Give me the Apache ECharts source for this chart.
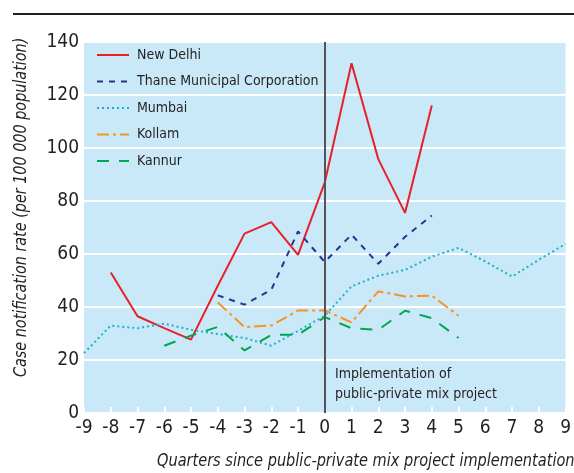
<!DOCTYPE html>
<html><head><meta charset="utf-8">
<script src="https://cdn.jsdelivr.net/npm/echarts@6/dist/echarts.min.js"></script>
<style>html,body{margin:0;padding:0;background:#fff}#c{width:574px;height:473px}</style>
</head><body><div id="c"></div>
<script>
var quarters = [-9,-8,-7,-6,-5,-4,-3,-2,-1,0,1,2,3,4,5,6,7,8,9];
var newDelhi = [null,53,36.5,32,27.7,48,67.7,72,59.7,87,132,95.8,75.5,116,null,null,null,null,null];
var thane    = [null,null,null,null,null,44.4,40.9,46.5,68.5,57,67.3,56.3,66.5,74.5,null,null,null,null,null];
var mumbai   = [22.6,33,32,33.7,31.4,29.8,28.3,25.4,31,36.7,47.8,51.8,54,59,62.3,57.2,51.5,57.8,63.8];
var kollam   = [null,null,null,null,null,41.7,32.4,33,38.7,38.7,34.2,45.9,44,44.3,36.7,null,null,null,null];
var kannur   = [null,null,null,25.4,29.2,32.5,23.6,29.5,29.5,36.2,32,31.4,38.6,35.8,28.3,null,null,null,null];
var yTicks = [0,20,40,60,80,100,120,140];

function pairs(arr){ var out=[]; for (var i=0;i<quarters.length;i++){ if(arr[i]!==null) out.push([quarters[i],arr[i]]); } return out; }

var FONT = '"Liberation Sans Narrow","DejaVu Sans Condensed","Liberation Sans",sans-serif';
var chart = echarts.init(document.getElementById('c'), null, {renderer:'canvas'});
function ser(name, arr, color, type, width){
  return {name:name, type:'line', data:pairs(arr), symbol:'none', connectNulls:false,
    lineStyle:{color:color, width:width||2, type:type}, itemStyle:{color:color}, z:3};
}
var s = [
  ser('New Delhi', newDelhi, '#e8202a', 'solid', 2),
  ser('Thane Municipal Corporation', thane, '#2e3192', [6,6], 2),
  ser('Mumbai', mumbai, '#1fb0c8', [2,3], 2),
  ser('Kollam', kollam, '#f7941e', [12,4,3,4], 2),
  ser('Kannur', kannur, '#00a651', [12,10], 2)
];
s[0].markLine = {silent:true, symbol:'none', label:{show:false},
  lineStyle:{color:'#555555', width:2, type:'solid'}, data:[{xAxis:0}]};
chart.setOption({
  animation:false,
  grid:{left:84, right:5, top:42, bottom:60, show:true, backgroundColor:'#c9e9f8', borderWidth:0},
  legend:{orient:'vertical', left:96, top:48, padding:0, itemWidth:32, itemHeight:14, itemGap:12.5,
    itemStyle:{opacity:0},
    textStyle:{fontFamily:FONT, fontSize:14, color:'#231f20', padding:[0,0,0,3]},
    data:['New Delhi','Thane Municipal Corporation','Mumbai','Kollam','Kannur']},
  xAxis:{type:'value', min:-9, max:9, interval:1,
    axisLine:{show:false}, axisTick:{show:true, inside:true, length:6, lineStyle:{color:'#ffffff', width:2}},
    splitLine:{show:false},
    axisLabel:{fontFamily:FONT, fontSize:19, color:'#231f20', margin:6}},
  yAxis:{type:'value', min:0, max:140, interval:20,
    axisLine:{show:false}, axisTick:{show:false},
    splitLine:{show:true, lineStyle:{color:'#ffffff', width:2}},
    axisLabel:{fontFamily:FONT, fontSize:19, color:'#231f20', margin:5,
      formatter:function(v){ return yTicks.indexOf(v)>=0 ? String(v) : ''; }}},
  graphic:[
    {type:'line', shape:{x1:13,y1:14,x2:574,y2:14}, style:{stroke:'#231f20', lineWidth:2}},
    {type:'text', left:335, top:364, style:{text:'Implementation of\npublic-private mix project', font:'14px '+FONT, fill:'#231f20', lineHeight:20}, z:10},
    {type:'text', x:157, y:453, scaleX:0.95, style:{text:'Quarters since public-private mix project implementation', font:'italic 17px '+FONT, fill:'#231f20'}},
    {type:'text', x:13, y:377, rotation:Math.PI/2, scaleX:0.94, style:{text:'Case notification rate (per 100 000 population)', font:'italic 17px '+FONT, fill:'#231f20'}}
  ],
  series:s
});
</script></body></html>
